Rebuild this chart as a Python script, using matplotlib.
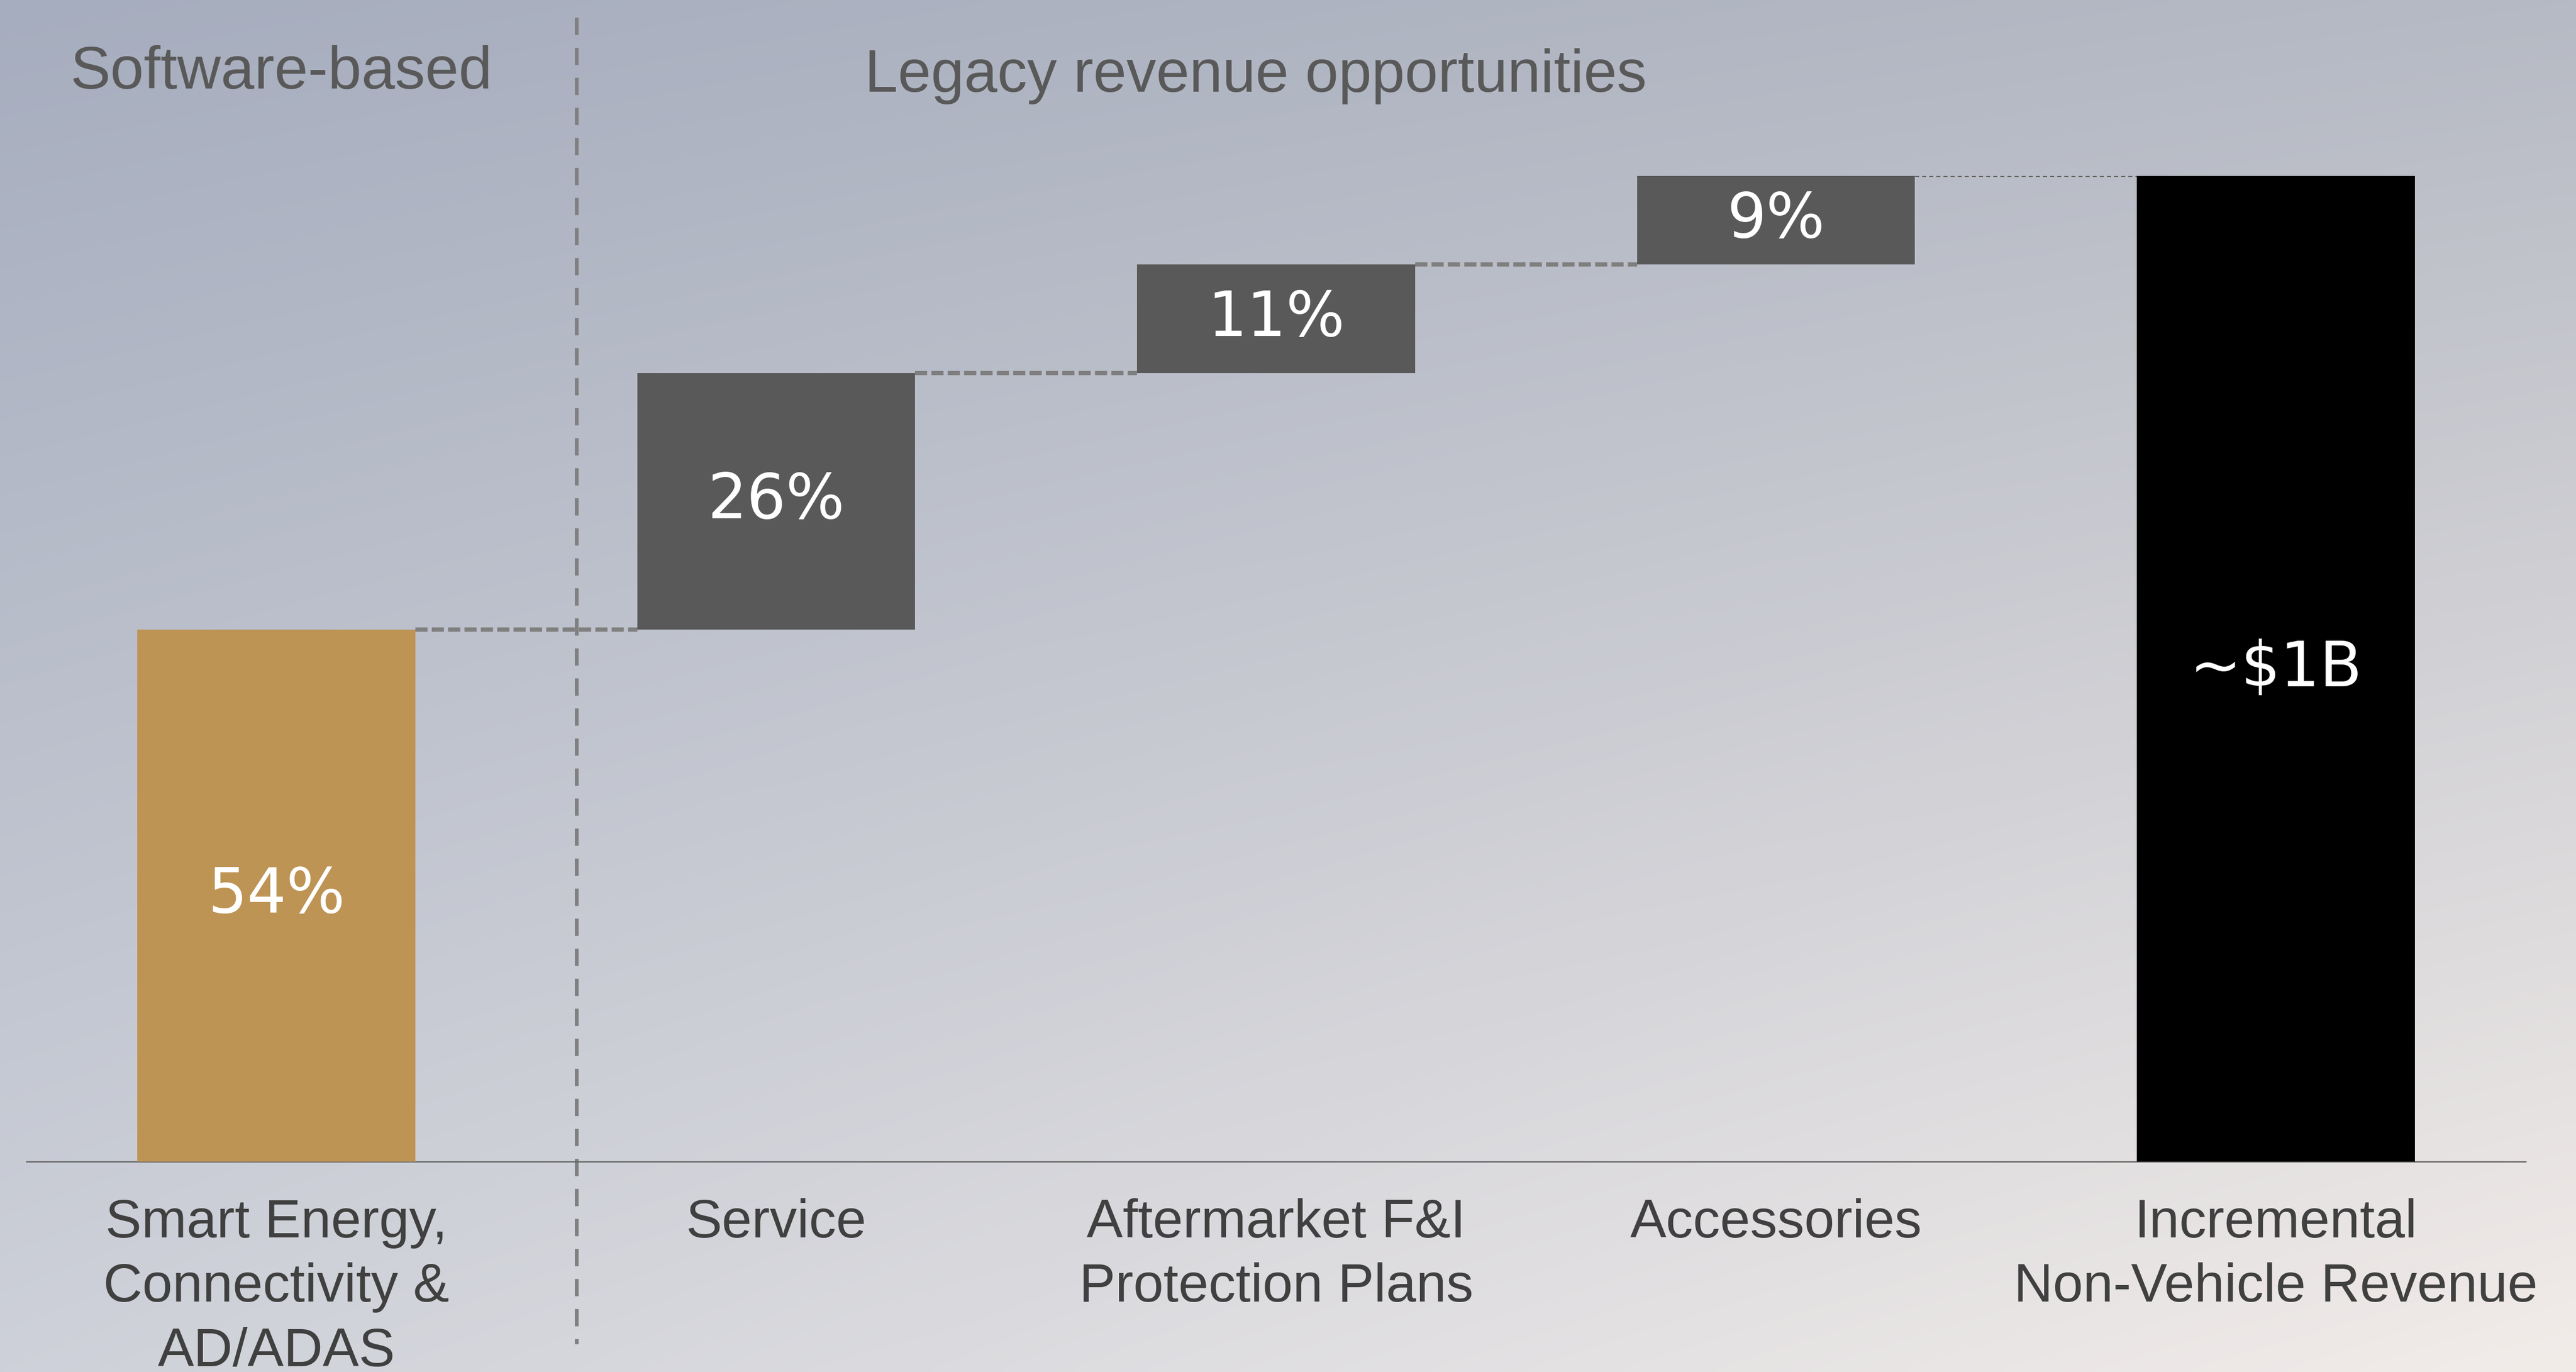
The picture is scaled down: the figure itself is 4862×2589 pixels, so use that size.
import matplotlib.pyplot as plt
import numpy as np
from matplotlib.colors import to_rgb
from matplotlib.transforms import blended_transform_factory

# revenue build-up (share of incremental non-vehicle revenue, %)
categories = ["Smart Energy,\nConnectivity &\nAD/ADAS", "Service",
              "Aftermarket F&I\nProtection Plans", "Accessories",
              "Incremental\nNon-Vehicle Revenue"]
shares = [54, 26, 11, 9]
value_labels = ["54%", "26%", "11%", "9%", "~$1B"]
group_titles = ["Software-based", "Legacy revenue opportunities"]

bar_colors = ["#BE9455", "#595959", "#595959", "#595959", "#000000"]

total = sum(shares)
bottoms = list(np.cumsum([0] + shares[:-1])) + [0]
heights = shares + [total]
x = np.arange(len(categories))
width = 0.556

W, H, DPI = 4862, 2589, 300
fig = plt.figure(figsize=(W / DPI, H / DPI), dpi=DPI)

# soft background gradient
bg = fig.add_axes([0, 0, 1, 1], zorder=-10)
tl, tr = np.array(to_rgb("#a6adbe")), np.array(to_rgb("#b6bac4"))
bl, br = np.array(to_rgb("#ced1d9")), np.array(to_rgb("#f2ece9"))
u = np.linspace(0, 1, 400)[None, :, None]
v = np.linspace(0, 1, 220)[:, None, None]
grad = (tl * (1 - u) * (1 - v) + tr * u * (1 - v)
        + bl * (1 - u) * v + br * u * v)
bg.imshow(grad, aspect="auto", extent=[0, 1, 0, 1], interpolation="bicubic")
bg.axis("off")

ax = fig.add_axes([50 / W, 397 / H, 4717 / W, 1860 / H])
ax.set_facecolor("none")
ax.bar(x, heights, width=width, bottom=bottoms, color=bar_colors, zorder=3)
ax.set_xlim(-0.5, 4.5)
ax.set_ylim(0, total)

# labels inside the bars
for xi, b, h, lab in zip(x, bottoms, heights, value_labels):
    ax.text(xi, b + h / 2, lab, ha="center", va="center", color="white",
            fontsize=28, family="DejaVu Sans", zorder=4)

# connectors between consecutive steps
level = 0
for i, s in enumerate(shares):
    level += s
    if i < len(shares) - 1:
        ax.plot([i + width / 2, i + 1 - width / 2], [level, level],
                color="#7f7f7f", lw=1.9, dashes=(2.9, 1.0), zorder=2,
                solid_capstyle="butt", dash_capstyle="butt")
    else:
        ax.plot([i + width / 2, i + 1 - width / 2], [level, level],
                color="#666666", lw=0.7, dashes=(2.6, 2.0), zorder=2,
                dash_capstyle="butt")

# separator between the software and legacy groups (drawn top-down)
sep = blended_transform_factory(ax.transData, ax.transAxes)
ax.plot([0.6, 0.6], [1.161, -0.185], transform=sep, color="#808080", lw=1.7,
        dashes=(4.6, 3.4), dash_capstyle="butt", clip_on=False, zorder=1)

for sp in ["top", "right", "left"]:
    ax.spines[sp].set_visible(False)
ax.spines["bottom"].set_color("#666666")
ax.spines["bottom"].set_linewidth(0.6)
ax.set_yticks([])
ax.set_xticks(x)
ax.set_xticklabels(categories, fontsize=24.5, color="#404040",
                   family="Liberation Sans", linespacing=1.36)
ax.tick_params(axis="x", length=0, pad=16.5)

fig.text(133 / W, 1 - 167 / H, group_titles[0], fontsize=27.3,
         color="#595959", family="Liberation Sans", va="baseline")
fig.text(1632 / W, 1 - 173 / H, group_titles[1], fontsize=27,
         color="#595959", family="Liberation Sans", va="baseline")

fig.savefig("out.png", dpi=DPI)
